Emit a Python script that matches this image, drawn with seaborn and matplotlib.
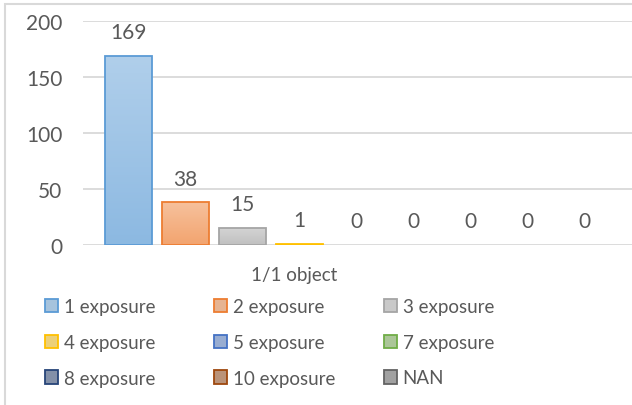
import numpy as np
import pandas as pd
import matplotlib
matplotlib.use("Agg")
import matplotlib.pyplot as plt
import matplotlib.colors as mcolors
from matplotlib.patches import Rectangle
import seaborn as sns

# data
exposures = ["1 exposure", "2 exposure", "3 exposure", "4 exposure", "5 exposure",
             "7 exposure", "8 exposure", "10 exposure", "NAN"]
counts = [169, 38, 15, 1, 0, 0, 0, 0, 0]
category = "1/1 object"
yticks = [0, 50, 100, 150, 200]

# Office palette (edge colours)
edge_colors = ["#5B9BD5", "#ED7D31", "#A5A5A5", "#FFC000", "#4472C4",
               "#70AD47", "#264478", "#9E480E", "#636363"]
text_color = "#595959"
grid_color = "#D9D9D9"


def tint(c, amount):
    r, g, b = mcolors.to_rgb(c)
    return (r + (1 - r) * amount, g + (1 - g) * amount, b + (1 - b) * amount)


df = pd.DataFrame({"cat": [category] * len(exposures), "exposure": exposures, "count": counts})

sns.set_theme(style="white")
plt.rcParams["font.family"] = ["Lato", "DejaVu Sans"]

fig = plt.figure(figsize=(6.32, 4.06), dpi=100)
ax = fig.add_axes([83 / 632, 1 - 246 / 406, 1 - 83 / 632, (246 - 22) / 406])

sns.barplot(data=df, x="cat", y="count", hue="exposure", hue_order=exposures,
            palette=[tint(c, 0.4) for c in edge_colors], gap=0.18, width=0.8,
            legend=True, ax=ax)

# edges + vertical gradient fill like the Excel default style
for patch, ec in zip(ax.patches, edge_colors):
    x0, y0 = patch.get_x(), patch.get_y()
    w, h = patch.get_width(), patch.get_height()
    if h <= 0:
        patch.set_visible(False)
        continue
    patch.set_edgecolor(ec)
    patch.set_linewidth(1.3)
    top, bot = np.array(tint(ec, 0.52)), np.array(tint(ec, 0.3))
    grad = np.linspace(0, 1, 64)[:, None, None]
    img = top * (1 - grad) + bot * grad
    im = ax.imshow(img, extent=[x0, x0 + w, y0, y0 + h], origin="upper",
                   aspect="auto", zorder=patch.get_zorder(), interpolation="bilinear")
    im.set_clip_path(patch)
    patch.set_facecolor("none")
    patch.set_zorder(patch.get_zorder() + 0.1)

for cont in ax.containers:
    ax.bar_label(cont, padding=10, fontsize=15, color=text_color)

ax.set_ylim(0, 200)
ax.set_yticks(yticks)
ax.set_xlim(-0.4267, 0.4297)
ax.set_xticks([])
ax.set_xlabel("")
ax.set_ylabel("")
ax.tick_params(axis="y", length=0, pad=15, labelsize=15, labelcolor=text_color)
ax.yaxis.grid(True, color=grid_color, linewidth=1.3)
ax.set_axisbelow(True)
for s in ax.spines.values():
    s.set_visible(False)

fig.text(294 / 632, 1 - 275 / 406, category, ha="center", va="center",
         fontsize=13.5, color=text_color)

# legend: three columns, row-major like Excel
handles, labels = ax.get_legend_handles_labels()
ax.get_legend().remove()
for h, ec in zip(handles, edge_colors):
    h.set_edgecolor(ec)
    h.set_linewidth(1.3)
col_x = [45, 214, 384]
for j in range(3):
    fig.legend(handles[j::3], labels[j::3], loc="upper left",
               bbox_to_anchor=(col_x[j] / 632, 1 - 299 / 406),
               frameon=False, fontsize=13.5, labelcolor=text_color,
               handlelength=0.7, handleheight=0.7, handletextpad=0.3,
               labelspacing=1.0, borderpad=0, borderaxespad=0)

# chart area border (left/top visible)
fig.patches.append(Rectangle((5 / 632, -0.1), 1.2, 0.1 + 1 - 5 / 406,
                             transform=fig.transFigure, fill=False,
                             edgecolor=grid_color, linewidth=1.5, clip_on=False))

fig.savefig("out.png", dpi=100)
